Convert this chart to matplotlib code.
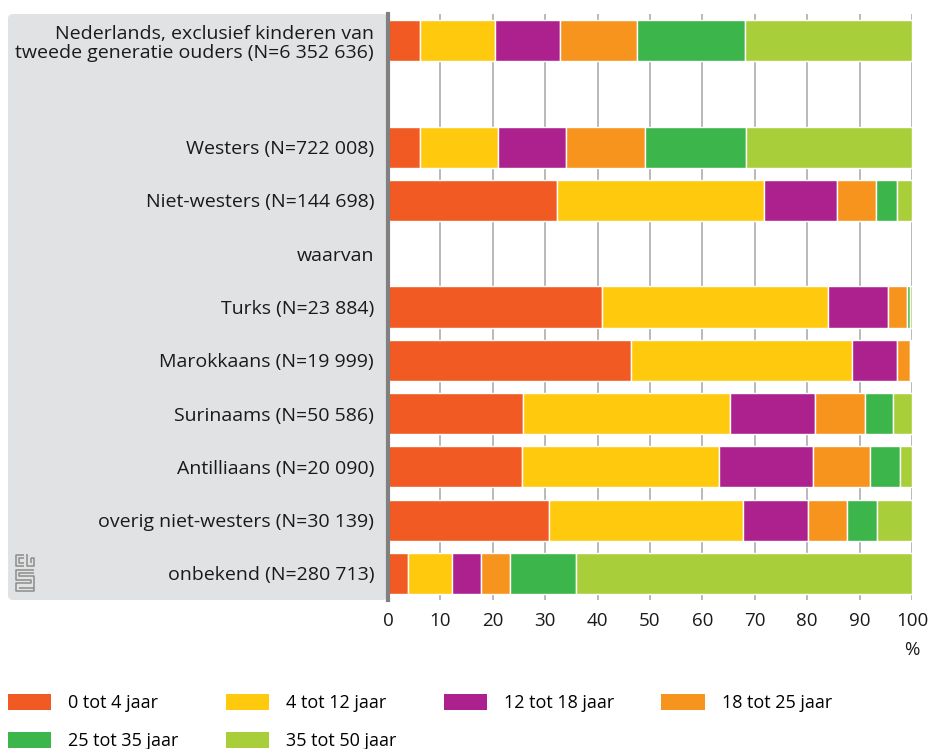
import numpy as np
import matplotlib.pyplot as plt
from matplotlib.patches import FancyBboxPatch, Patch

plt.rcParams['font.family'] = ['Open Sans', 'DejaVu Sans']

# rijen (van boven naar beneden), lege rij en 'waarvan' zonder balk
labels = ['Nederlands, exclusief kinderen van\ntweede generatie ouders (N=6 352 636)',
          '',
          'Westers (N=722 008)',
          'Niet-westers (N=144 698)',
          'waarvan',
          'Turks (N=23 884)',
          'Marokkaans (N=19 999)',
          'Surinaams (N=50 586)',
          'Antilliaans (N=20 090)',
          'overig niet-westers (N=30 139)',
          'onbekend (N=280 713)']

groepen = ['0 tot 4 jaar', '4 tot 12 jaar', '12 tot 18 jaar',
           '18 tot 25 jaar', '25 tot 35 jaar', '35 tot 50 jaar']
kleuren = ['#f15a22', '#ffc90e', '#ac218e', '#f7941d', '#3cb54a', '#a8cf3a']

g0_4   = [6.1, 0, 6.1, 32.2, 0, 40.9, 46.4, 25.8, 25.5, 30.8, 3.9]
g4_12  = [14.3, 0, 14.8, 39.6, 0, 43.1, 42.2, 39.4, 37.6, 36.9, 8.3]
g12_18 = [12.4, 0, 13.1, 13.9, 0, 11.4, 8.5, 16.3, 18.1, 12.5, 5.5]
g18_25 = [14.8, 0, 15.1, 7.4, 0, 3.7, 2.5, 9.6, 10.8, 7.4, 5.6]
g25_35 = [20.5, 0, 19.2, 4.1, 0, 0.6, 0.3, 5.3, 5.8, 5.8, 12.5]
g35_50 = [31.9, 0, 31.7, 2.8, 0, 0.3, 0.1, 3.6, 2.2, 6.6, 64.2]

reeksen = [g0_4, g4_12, g12_18, g18_25, g25_35, g35_50]

W, H = 933, 749
fig = plt.figure(figsize=(W / 100, H / 100), dpi=100)

# grijs vlak achter de labels
paneel = FancyBboxPatch((8 / W, 1 - 600 / H), (388 - 8) / W, (600 - 14) / H,
                        boxstyle='round,pad=0,rounding_size=0.006',
                        transform=fig.transFigure, facecolor='#e1e2e4',
                        edgecolor='none', zorder=-5)
fig.patches.append(paneel)

ax = fig.add_axes([388 / W, 1 - 600 / H, (912 - 388) / W, (600 - 14) / H])
ax.set_facecolor('none')

y = np.arange(len(labels))
links = np.zeros(len(labels))
for waarden, kleur, naam in zip(reeksen, kleuren, groepen):
    w = np.array(waarden)
    ax.barh(y, w, left=links, height=0.77, color=kleur, edgecolor='white',
            linewidth=1, label=naam, zorder=3)
    links += w

ax.set_xlim(0, 100)
ax.set_ylim(len(labels) - 0.5, -0.5)
ax.set_xticks(np.arange(0, 101, 10))
ax.set_yticks(y)
ax.set_yticklabels(labels, fontsize=14, color='#1a1a1a', linespacing=1.1)
ax.tick_params(axis='y', length=0, pad=10)
ax.tick_params(axis='x', length=0, pad=9, labelsize=13.5, labelcolor='#1a1a1a')
ax.grid(axis='x', color='#b3b3b3', linewidth=1.3, zorder=1)
for s in ['top', 'right', 'bottom']:
    ax.spines[s].set_visible(False)
ax.spines['left'].set_color('#808080')
ax.spines['left'].set_linewidth(3)
ax.spines['left'].set_zorder(4)

ax.annotate('%', xy=(100, 0), xycoords=('data', 'axes fraction'),
            xytext=(0, -36), textcoords='offset points',
            ha='center', va='center', fontsize=13.5, color='#1a1a1a')

# legenda: rij 1 = eerste vier groepen, rij 2 = laatste twee
handles = [Patch(facecolor=k, edgecolor='none') for k in kleuren]
volgorde = [0, 4, 1, 5, 2, 3]
fig.legend([handles[i] for i in volgorde], [groepen[i] for i in volgorde],
           loc='upper left', bbox_to_anchor=(8 / W, 1 - 694 / H),
           ncol=4, frameon=False, fontsize=13, borderpad=0, borderaxespad=0,
           handlelength=2.4, handleheight=0.95, handletextpad=0.95,
           labelspacing=1.12, columnspacing=2.6)

# cbs-logo (benadering met lijnen)
lg = fig.add_axes([15 / W, 1 - 592 / H, 20 / W, 38 / H])
lg.set_zorder(2)
lg.set_xlim(-0.5, 8.5)
lg.set_ylim(16.5, -0.5)
lg.axis('off')
c_logo = '#8c8c8c'
lijnen = [
    [(3.5, 0), (0, 0), (0, 5), (3.5, 5)],
    [(3.5, 1.5), (1.5, 1.5), (1.5, 3.5), (3.5, 3.5)],
    [(5, -0.5), (5, 5), (8, 5), (8, 1.5), (6.5, 1.5)],
    [(6.5, 1.5), (6.5, 3.5)],
    [(8, 6.5), (0, 6.5), (0, 11), (6.5, 11), (6.5, 12.5), (0, 12.5), (0, 16), (8, 16), (8, 9.5), (1.5, 9.5), (1.5, 8), (8, 8)],
    [(1.5, 14.5), (8, 14.5)],
]
for pts in lijnen:
    xs, ys = zip(*pts)
    lg.plot(xs, ys, color=c_logo, lw=1.1, solid_capstyle='butt')

fig.savefig('out.png', dpi=100)
